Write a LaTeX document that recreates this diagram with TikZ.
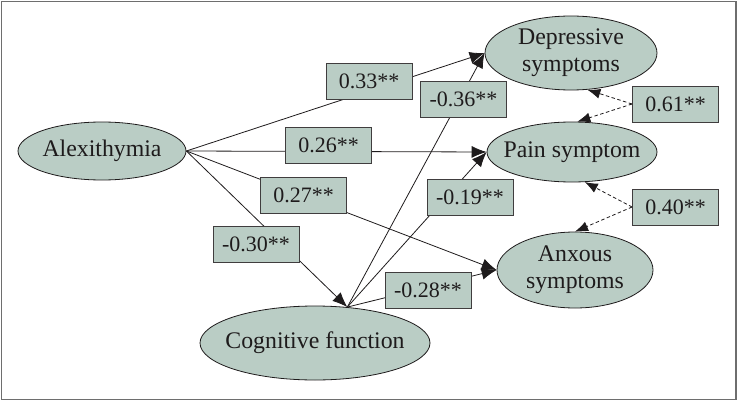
\documentclass[tikz,border=0pt]{standalone}
\usepackage{fontspec}
\setmainfont{Liberation Serif}
\usetikzlibrary{shapes.geometric,arrows.meta}
\definecolor{sage}{RGB}{186,205,197}
\definecolor{ink}{RGB}{30,27,28}
\definecolor{framegray}{RGB}{110,110,110}
\begin{document}
\begin{tikzpicture}[x=1pt,y=-1pt,
  var/.style={ellipse, draw=ink, line width=0.8pt, fill=sage, text=ink, inner xsep=-30pt, inner ysep=-8pt, align=center, font=\fontsize{23.8}{27}\selectfont},
  coef/.style={rectangle, draw=ink!85, line width=0.9pt, fill=sage, text=ink, minimum width=86pt, minimum height=36pt, inner sep=0pt, font=\fontsize{22}{24}\selectfont},
  pathline/.style={draw=ink, line width=0.8pt, -{Latex[length=15pt,width=12pt]}},
  covline/.style={draw=ink, line width=0.8pt, dash pattern=on 3.5pt off 2.5pt, -{Latex[length=13pt,width=10pt]}}]
\useasboundingbox (0,0) rectangle (738,401);
\draw[framegray, line width=1.8pt] (1.5,1.5) rectangle (736,399.5);
% variables
\node[var, minimum width=168pt, minimum height=58pt] (alex) at (102,151) {Alexithymia};
\node[var, minimum width=172pt, minimum height=74pt] (dep) at (571,53) {Depressive\\symptoms};
\node[var, minimum width=170pt, minimum height=60pt] (pain) at (572,152) {Pain symptom};
\node[var, minimum width=156pt, minimum height=76pt] (anx) at (575,270) {Anxous\\symptoms};
\node[var, minimum width=230pt, minimum height=74pt] (cog) at (315,343) {Cognitive function};
% paths
\draw[pathline] (alex.east) -- (dep.west);
\draw[pathline] (alex.east) -- (pain.west);
\draw[pathline] (alex.east) -- (anx.west);
\draw[pathline] (alex.east) -- (cog.48);
\draw[pathline] (cog.48) -- (dep.west);
\draw[pathline] (cog.48) -- (pain.west);
\draw[pathline] (cog.48) -- (anx.west);
% coefficients
\node[coef] (c33) at (369,81) {0.33**};
\node[coef] (c36) at (463.5,99) {-0.36**};
\node[coef] (c61) at (675.5,104) {0.61**};
\node[coef] (c26) at (328.5,145) {0.26**};
\node[coef] (c27) at (303.5,195) {0.27**};
\node[coef] (c19) at (470,197) {-0.19**};
\node[coef] (c30) at (256,244.5) {-0.30**};
\node[coef] (c28) at (428,290.5) {-0.28**};
\node[coef] (c40) at (675.5,207) {0.40**};
% covariances
\draw[covline] (c61.west) -- (dep.-66);
\draw[covline] (c61.west) -- (pain.80);
\draw[covline] (c40.west) -- (pain.-67);
\draw[covline] (c40.west) -- (anx.north);
\end{tikzpicture}
\end{document}
